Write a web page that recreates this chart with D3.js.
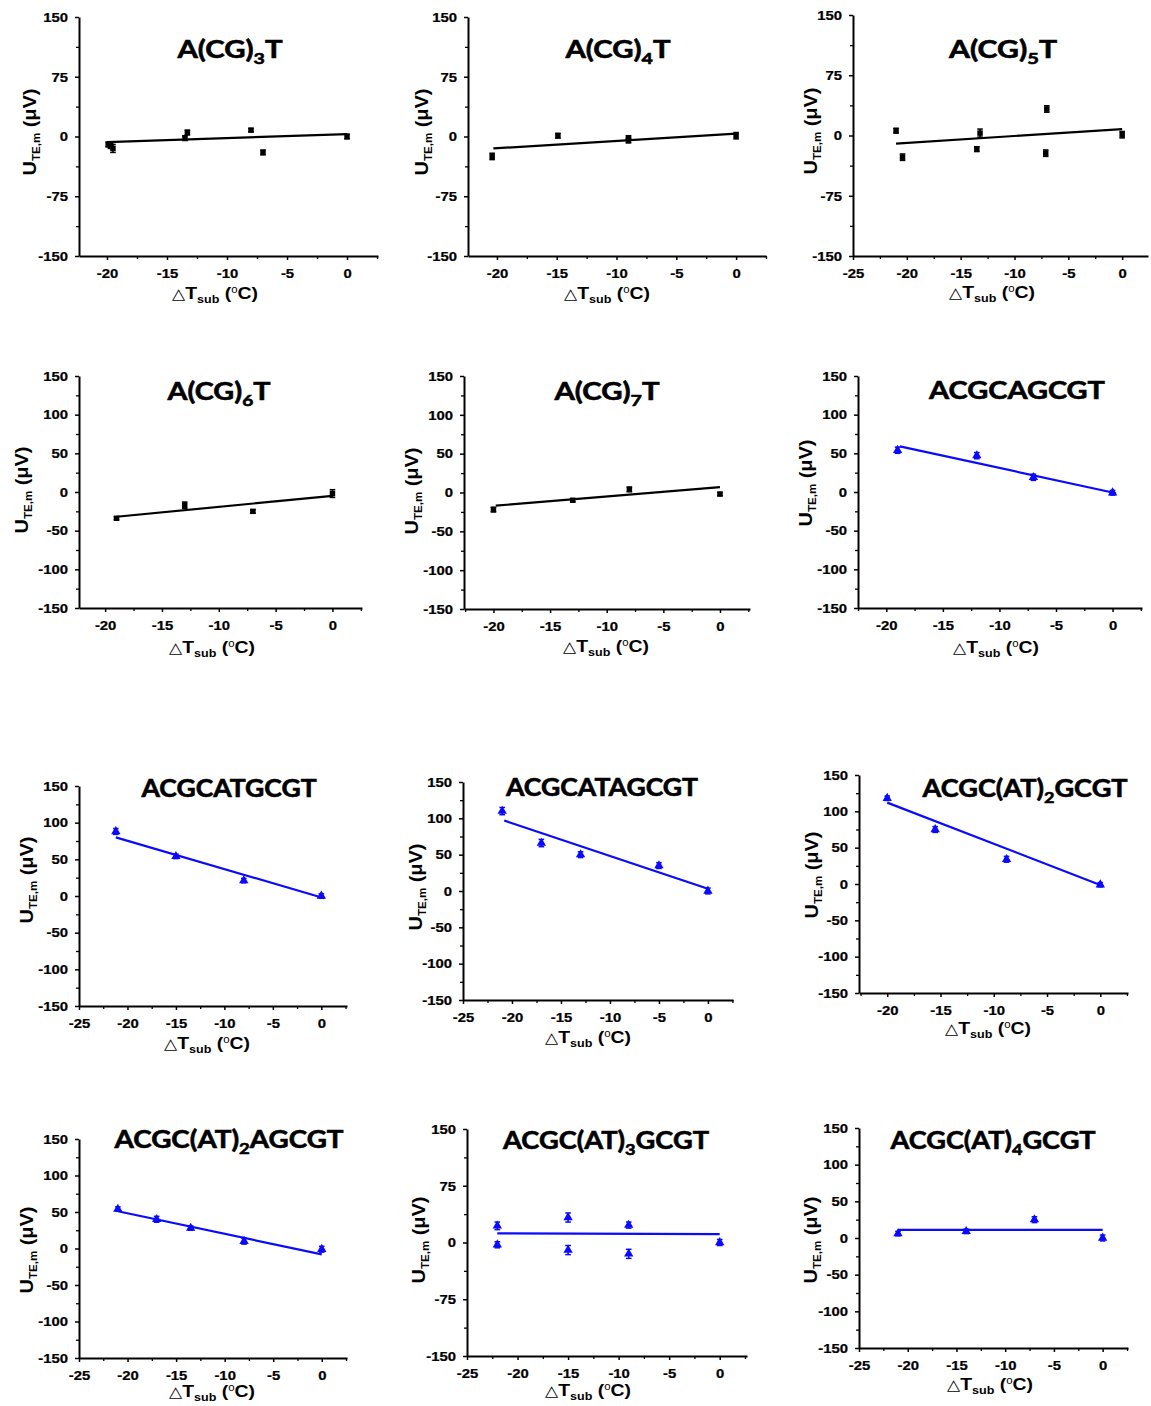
<!DOCTYPE html>
<html>
<head>
<meta charset="utf-8">
<script src="https://cdn.jsdelivr.net/npm/d3@7"></script>
<style>
  body { margin: 0; background: #fff; }
  svg { display: block; }
</style>
</head>
<body>
<svg id="fig" width="1151" height="1406"></svg>
<script>
// ---------- data ----------
const titles = ["A(CG)_3T", "A(CG)_4T", "A(CG)_5T", "A(CG)_6T", "A(CG)_7T", "ACGCAGCGT",
                "ACGCATGCGT", "ACGCATAGCGT", "ACGC(AT)_2GCGT", "ACGC(AT)_2AGCGT",
                "ACGC(AT)_3GCGT", "ACGC(AT)_4GCGT"];

const yTicks75 = [-150, -75, 0, 75, 150];
const yTicks50 = [-150, -100, -50, 0, 50, 100, 150];
const xTicks20 = [-20, -15, -10, -5, 0];
const xTicks25 = [-25, -20, -15, -10, -5, 0];

// ΔT_sub (°C), U_TE,m (µV), error (µV), linear fit end points
const dT1 = [-19.9, -19.7, -19.5, -13.5, -13.3, -8, -7, 0];
const u1  = [-10, -12, -15, -2, 5, 8, -20, 0];
const e1  = [3, 3, 5, 3, 3, 2, 3, 3];
const fitX1 = [-20, 0], fitY1 = [-7, 3];

const dT2 = [-20.4, -14.9, -9, -9, 0];
const u2  = [-25, 1, -2, -5, 1];
const e2  = [4, 3, 3, 3, 4];
const fitX2 = [-20.3, 0], fitY2 = [-15, 3.5];

const dT3 = [-21, -20.4, -13.5, -13.2, -7, -7.1, 0];
const u3  = [6, -27, -17, 3, 33, -22, 1];
const e3  = [3, 4, 3, 5, 4, 4, 4];
const fitX3 = [-21, 0], fitY3 = [-10, 8];

const dT4 = [-19, -13, -7, 0];
const u4  = [-34, -17, -25, -2];
const e4  = [2, 4, 2, 5];
const fitX4 = [-19, 0], fitY4 = [-32, -5];

const dT5 = [-20, -13, -8, 0];
const u5  = [-22, -10, 4, -2];
const e5  = [3, 2, 3, 2];
const fitX5 = [-19.8, 0], fitY5 = [-17, 7];

const dT6 = [-19, -12, -7, 0];
const u6  = [54, 47, 19, -1];
const e6  = [4, 4, 4, 3];
const fitX6 = [-18.8, 0.3], fitY6 = [59, -1.6];

const dT7 = [-21.2, -15, -8, 0];
const u7  = [88, 54, 21, 0];
const e7  = [4, 3, 3, 3];
const fitX7 = [-21.2, 0.3], fitY7 = [80, -3];

const dT8 = [-21, -17, -13, -5, 0];
const u8  = [110, 66, 50, 35, 0];
const e8  = [5, 5, 4, 4, 4];
const fitX8 = [-20.8, 0], fitY8 = [97, 3];

const dT9 = [-20, -15.5, -8.8, 0];
const u9  = [118, 75, 34, -1];
const e9  = [3, 4, 4, 3];
const fitX9 = [-20, 0.3], fitY9 = [112, -3];

const dT10 = [-21, -17, -13.5, -8, 0];
const u10  = [54, 40, 28, 10, -1];
const e10  = [3, 4, 3, 4, 4];
const fitX10 = [-21, 0], fitY10 = [51, -8];

const dT11 = [-22, -22, -15, -15, -9, -9, 0];
const u11  = [22, -3, 33, -10, 23, -15, 0];
const e11  = [5, 4, 6, 6, 4, 6, 4];
const fitX11 = [-22, 0], fitY11 = [12, 11];

const dT12 = [-21, -14, -7, 0];
const u12  = [6, 9, 25, 0];
const e12  = [3, 3, 4, 4];
const fitX12 = [-21, 0], fitY12 = [11, 11];

const series = [
  [dT1, u1, e1, fitX1, fitY1], [dT2, u2, e2, fitX2, fitY2], [dT3, u3, e3, fitX3, fitY3],
  [dT4, u4, e4, fitX4, fitY4], [dT5, u5, e5, fitX5, fitY5], [dT6, u6, e6, fitX6, fitY6],
  [dT7, u7, e7, fitX7, fitY7], [dT8, u8, e8, fitX8, fitY8], [dT9, u9, e9, fitX9, fitY9],
  [dT10, u10, e10, fitX10, fitY10], [dT11, u11, e11, fitX11, fitY11], [dT12, u12, e12, fitX12, fitY12]
];
const yTickSets = [yTicks75, yTicks75, yTicks75, yTicks50, yTicks50, yTicks50,
                   yTicks50, yTicks50, yTicks50, yTicks50, yTicks75, yTicks50];
const xTickSets = [xTicks20, xTicks20, xTicks25, xTicks20, xTicks20, xTicks20,
                   xTicks25, xTicks25, xTicks20, xTicks25, xTicks25, xTicks25];

// ---------- layout (pixel boxes for each panel) ----------
const layout = [
  { l: 79,  r: 378,  t: 17,   b: 256,  xd: [-22.33, 2.58], tc: 230,  tb: 58,   tw: 107, xc: 215, xb: 299,  yx: 36,  yc: 132 },
  { l: 468, r: 766,  t: 17,   b: 256,  xd: [-22.42, 2.5],  tc: 618,  tb: 58,   tw: 107, xc: 607, xb: 299,  yx: 428, yc: 132 },
  { l: 853, r: 1148, t: 15,   b: 256,  xd: [-25, 2.4],     tc: 1003, tb: 58,   tw: 110, xc: 992, xb: 298,  yx: 817, yc: 131 },
  { l: 79,  r: 362,  t: 376,  b: 608,  xd: [-22.3, 2.6],   tc: 219,  tb: 400,  tw: 105, xc: 212, xb: 653,  yx: 28,  yc: 490 },
  { l: 464, r: 750,  t: 376,  b: 609,  xd: [-22.6, 2.65],  tc: 607,  tb: 400,  tw: 107, xc: 606, xb: 652,  yx: 418, yc: 491 },
  { l: 858, r: 1142, t: 376,  b: 608,  xd: [-22.5, 2.6],   tc: 1017, tb: 399,  tw: 178, xc: 996, xb: 653,  yx: 812, yc: 483 },
  { l: 79,  r: 347,  t: 786,  b: 1006, xd: [-25, 2.65],    tc: 229,  tb: 797,  tw: 177, xc: 207, xb: 1049, yx: 33,  yc: 880 },
  { l: 463, r: 733,  t: 782,  b: 1000, xd: [-25, 2.56],    tc: 602,  tb: 796,  tw: 194, xc: 588, xb: 1043, yx: 422, yc: 887 },
  { l: 859, r: 1128, t: 775,  b: 993,  xd: [-22.65, 2.6],  tc: 1025, tb: 797,  tw: 207, xc: 988, xb: 1034, yx: 818, yc: 875 },
  { l: 79,  r: 347,  t: 1139, b: 1358, xd: [-25, 2.6],     tc: 229,  tb: 1148, tw: 231, xc: 212, xb: 1397, yx: 33,  yc: 1250 },
  { l: 467, r: 747,  t: 1129, b: 1356, xd: [-25, 2.7],     tc: 606,  tb: 1149, tw: 208, xc: 588, xb: 1396, yx: 425, yc: 1240 },
  { l: 859, r: 1128, t: 1128, b: 1348, xd: [-25, 2.6],     tc: 993,  tb: 1149, tw: 207, xc: 990, xb: 1390, yx: 817, yc: 1240 }
];

const F_NUM = "'Liberation Sans', Arial, sans-serif";
const F_TITLE = "Lato, 'Open Sans', sans-serif";
const BLUE = "#0a0aff";

const svg = d3.select("#fig");

function fitWidth(sel, target) {
  const w = sel.node().getBBox().width;
  return w > 0 ? target / w : 1;
}

layout.forEach((L, i) => {
  const [xs, ys, es, fx, fy] = series[i];
  const color = i < 5 ? "#000" : BLUE;
  const x = d3.scaleLinear().domain(L.xd).range([L.l, L.r]);
  const y = d3.scaleLinear().domain([-150, 150]).range([L.b, L.t]);
  const g = svg.append("g");

  const xt = xTickSets[i], yt = yTickSets[i];
  const xMinor = d3.range(Math.ceil(L.xd[0] / 2.5) * 2.5, L.xd[1] + 1e-9, 2.5)
    .filter(v => Math.abs(v % 5) > 1e-6);
  const yStep = (yt[1] - yt[0]) / 2;
  const yMinor = d3.range(-150 + yStep, 150, yStep * 2);

  // minor ticks
  g.append("g").attr("transform", `translate(0,${L.b})`)
    .call(d3.axisBottom(x).tickValues(xMinor).tickSize(3).tickFormat(""))
    .call(a => a.select(".domain").remove())
    .selectAll("line").attr("stroke-width", 1.3);
  g.append("g").attr("transform", `translate(${L.l},0)`)
    .call(d3.axisLeft(y).tickValues(yMinor).tickSize(3).tickFormat(""))
    .call(a => a.select(".domain").remove())
    .selectAll("line").attr("stroke-width", 1.3);

  // major axes
  const ax = g.append("g").attr("transform", `translate(0,${L.b})`)
    .call(d3.axisBottom(x).tickValues(xt).tickSize(4).tickSizeOuter(0).tickPadding(8)
      .tickFormat(d => String(d)));
  const ay = g.append("g").attr("transform", `translate(${L.l},0)`)
    .call(d3.axisLeft(y).tickValues(yt).tickSize(4).tickSizeOuter(0).tickPadding(6)
      .tickFormat(d => String(d)));
  [ax, ay].forEach(a => {
    a.select(".domain").attr("stroke-width", 2);
    a.selectAll(".tick line").attr("stroke-width", 1.5);
    a.selectAll("text").attr("font-family", F_NUM).attr("font-weight", "bold")
      .attr("font-size", 13.5).attr("fill", "#000")
      .attr("stroke", "#000").attr("stroke-width", 0.25)
      .attr("transform", "scale(1.1,1)");
  });

  // fit line
  const fitPts = fx.map((v, k) => [v, fy[k]]);
  g.append("path").datum(fitPts)
    .attr("d", d3.line().x(d => x(d[0])).y(d => y(d[1])))
    .attr("fill", "none").attr("stroke", color).attr("stroke-width", 2.2);

  // error bars
  const pts = xs.map((v, k) => ({ x: v, y: ys[k], e: es[k] }));
  const eb = g.append("g").attr("stroke", color).attr("stroke-width", 1.5);
  pts.forEach(p => {
    const cx = x(p.x), y0 = y(p.y - p.e), y1 = y(p.y + p.e);
    eb.append("line").attr("x1", cx).attr("x2", cx).attr("y1", y0).attr("y2", y1);
    eb.append("line").attr("x1", cx - 2.8).attr("x2", cx + 2.8).attr("y1", y0).attr("y2", y0);
    eb.append("line").attr("x1", cx - 2.8).attr("x2", cx + 2.8).attr("y1", y1).attr("y2", y1);
  });

  // markers
  const sym = i < 5 ? d3.symbol(d3.symbolSquare, 30) : d3.symbol(d3.symbolTriangle, 38);
  g.append("g").selectAll("path").data(pts).join("path")
    .attr("d", sym)
    .attr("transform", d => `translate(${x(d.x)},${y(d.y)})`)
    .attr("fill", color);

  // title with subscript digit
  const tt = g.append("text").attr("font-family", F_TITLE).attr("font-weight", "bold")
    .attr("font-size", 24).attr("text-anchor", "middle").attr("fill", "#000")
    .attr("stroke", "#000").attr("stroke-width", 0.6);
  const parts = titles[i].split("_");
  tt.append("tspan").text(parts[0]);
  if (parts.length > 1) {
    tt.append("tspan").attr("font-size", 16).attr("dy", 6).text(parts[1][0]);
    tt.append("tspan").attr("dy", -6).text(parts[1].slice(1));
  }
  const ts = fitWidth(tt, L.tw);
  tt.attr("transform", `translate(${L.tc},${L.tb}) scale(${ts},1)`);

  // x axis label
  const xl = g.append("text").attr("font-family", F_NUM).attr("font-weight", "bold")
    .attr("font-size", 17).attr("text-anchor", "middle").attr("fill", "#000");
  xl.append("tspan").attr("font-family", "'DejaVu Sans', sans-serif").attr("font-weight", "normal")
    .attr("font-size", 15).text("\u25B3");
  xl.append("tspan").text("T");
  xl.append("tspan").attr("font-size", 11).attr("dy", 4).text("sub");
  xl.append("tspan").attr("dy", -4).text(" (");
  xl.append("tspan").attr("font-size", 10).attr("font-weight", "normal").attr("dy", -6).text("o");
  xl.append("tspan").attr("dy", 6).text("C)");
  const xs2 = fitWidth(xl, 86);
  xl.attr("transform", `translate(${L.xc},${L.xb}) scale(${xs2},1)`);

  // y axis label
  const yl = g.append("text").attr("font-family", F_NUM).attr("font-weight", "bold")
    .attr("font-size", 19).attr("text-anchor", "middle").attr("fill", "#000");
  yl.append("tspan").text("U");
  yl.append("tspan").attr("font-size", 11).attr("dy", 4).text("TE,m");
  yl.append("tspan").attr("dy", -4).text(" (\u03BCV)");
  const ys2 = fitWidth(yl, 87);
  yl.attr("transform", `translate(${L.yx},${L.yc}) rotate(-90) scale(${ys2},1)`);
});
</script>
</body>
</html>
